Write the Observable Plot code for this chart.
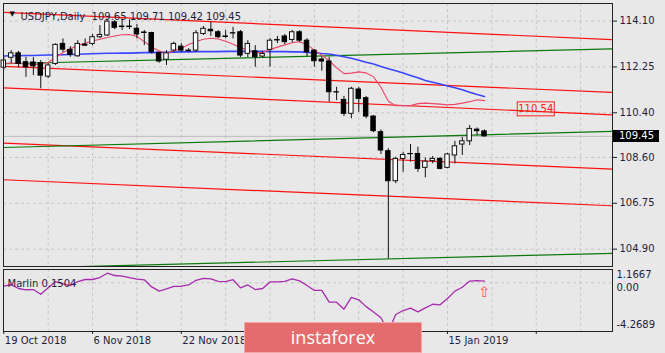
<!DOCTYPE html>
<html><head><meta charset="utf-8">
<script src="https://cdn.jsdelivr.net/npm/d3@7"></script>
<script src="https://cdn.jsdelivr.net/npm/@observablehq/plot@0.6"></script>
<style>
html,body{margin:0;padding:0;background:#e8e8e8;}
#chart{position:relative;width:665px;height:353px;overflow:hidden;background:#e8e8e8;font-family:"DejaVu Sans",sans-serif;}
#chart svg{position:absolute;left:0;overflow:visible;}
#logo{position:absolute;left:244px;top:322px;width:178px;height:31px;background:#e46c6c;border:1px solid #f2a8a8;box-sizing:border-box;color:#fff;font:18px "Open Sans",sans-serif;text-align:center;line-height:28px;z-index:5;}
#pricebox{position:absolute;left:613px;width:46px;height:12px;background:#000;color:#fff;font:10px "DejaVu Sans",sans-serif;line-height:12px;padding-left:6px;box-sizing:border-box;z-index:5;}
</style></head>
<body><div id="chart"></div>
<script>
// ---------- data ----------
const symbol = "USDJPY", timeframe = "Daily";
const opens  = [112.22,112.62,112.80,112.44,112.43,112.41,111.86,112.37,113.18,112.94,112.68,113.15,113.18,113.45,113.52,114.05,113.88,113.88,113.79,113.64,113.62,112.82,112.54,112.91,113.07,112.91,112.91,113.58,113.75,113.65,113.48,113.61,113.65,112.78,112.88,112.67,112.94,113.34,113.48,113.34,113.65,113.31,112.91,112.55,112.47,111.23,110.92,110.36,111.34,110.99,110.25,109.62,108.85,107.64,108.54,108.74,108.74,108.18,108.45,108.54,108.18,108.68,109.12,109.25,109.72,109.65];
const highs  = [112.67,112.91,112.88,112.64,112.63,112.51,112.39,113.18,113.38,113.07,113.31,113.38,113.56,113.92,114.12,114.12,114.19,114.15,113.96,113.72,113.65,112.84,112.91,113.25,113.19,112.99,113.72,113.88,114.05,113.72,113.72,113.85,113.72,113.31,113.11,112.87,113.39,113.48,113.56,113.72,113.72,113.39,112.95,112.64,112.64,111.43,111.06,111.43,111.43,111.06,110.29,109.71,108.95,108.61,108.81,109.12,109.01,108.58,108.64,108.60,108.77,109.25,109.41,109.89,109.79,109.71];
const lows   = [112.10,112.39,112.22,111.83,111.90,111.37,111.78,112.31,112.84,112.64,112.64,113.07,113.11,113.39,113.48,113.75,113.72,113.76,113.38,113.11,112.78,112.40,112.31,112.84,112.84,112.83,112.83,113.52,113.48,113.39,113.39,113.38,112.63,112.63,112.24,112.59,112.24,113.19,113.15,113.23,113.23,112.67,112.24,112.08,110.83,110.89,110.25,110.16,110.42,110.16,109.60,108.72,104.51,107.54,108.00,108.41,108.00,107.78,108.34,108.10,108.14,108.34,108.68,109.08,109.48,109.42];
const closes = [112.51,112.80,112.37,112.24,112.27,111.90,112.31,113.14,112.95,112.74,113.18,113.11,113.45,113.54,114.08,113.83,113.86,113.86,113.56,113.62,112.84,112.47,112.80,113.18,112.91,112.89,113.61,113.79,113.69,113.45,113.46,113.60,112.71,113.18,112.64,112.77,113.31,113.32,113.25,113.65,113.31,112.84,112.48,112.47,111.23,111.22,110.36,111.37,110.96,110.25,109.66,108.88,107.64,108.54,108.70,108.73,108.14,108.43,108.54,108.14,108.72,109.05,109.25,109.75,109.66,109.45];
const fastMA = [112.39,112.41,112.39,112.37,112.35,112.35,112.43,112.63,112.83,112.98,113.12,113.21,113.30,113.37,113.44,113.50,113.55,113.56,113.48,113.27,113.06,112.89,112.81,112.89,113.00,113.16,113.28,113.37,113.41,113.38,113.29,113.17,113.04,112.91,112.83,112.83,112.95,113.05,113.14,113.23,113.27,113.15,112.93,112.72,112.50,112.22,111.98,112.00,112.05,112.01,111.85,111.43,110.87,110.69,110.69,110.69,110.77,110.79,110.77,110.75,110.72,110.74,110.79,110.85,110.93,110.89];
const slowMA = [112.69,112.70,112.70,112.71,112.71,112.72,112.73,112.73,112.74,112.75,112.76,112.77,112.78,112.79,112.80,112.80,112.81,112.81,112.82,112.83,112.83,112.84,112.84,112.85,112.86,112.86,112.87,112.87,112.87,112.87,112.88,112.88,112.88,112.88,112.88,112.88,112.87,112.87,112.87,112.86,112.86,112.84,112.82,112.79,112.77,112.72,112.66,112.60,112.52,112.44,112.37,112.27,112.18,112.10,112.01,111.91,111.81,111.70,111.63,111.56,111.48,111.41,111.33,111.23,111.14,111.06];
const channelBars = [0, 82.3];
const redChannelStart   = [114.45, 112.27, 111.41, 109.18, 107.70];
const redChannelEnd     = [113.35, 111.22, 110.32, 108.13, 106.65];
const greenChannelStart = [112.38, 109.00, 104.12];
const greenChannelEnd   = [112.98, 109.65, 104.73];
const marlinName = "Marlin";
const marlin = [-0.30,-0.17,-0.50,-0.61,-0.59,-1.01,-0.44,0.10,-0.09,-0.24,0.11,0.29,0.29,0.46,0.84,0.64,0.59,0.45,0.33,0.26,-0.36,-0.73,-0.54,-0.32,-0.30,-0.19,0.22,0.39,0.34,0.12,0.11,0.27,-0.44,-0.19,-0.59,-0.50,0.08,0.08,0.13,0.35,0.17,-0.24,-0.67,-0.67,-1.70,-1.70,-2.31,-1.27,-1.49,-2.09,-2.56,-3.06,-4.2689,-2.78,-2.43,-2.22,-2.55,-2.20,-1.88,-1.93,-1.37,-0.73,-0.39,0.15,0.20,0.1504];
const marlinRange = [-4.2689, 1.1667];
const signalBar = 65, signalValue = -0.8;
const priceTicks = [114.10, 112.25, 110.40, 108.60, 106.75, 104.90];
const gridBars = [6,12,18,24,30,36,42,48,54,60,66,72,78];
const dateTickBars = [0,12,24,36,48,60,72];
const dateLabelBars = [0,12,24,60];
const dateLabels = ["19 Oct 2018","6 Nov 2018","22 Nov 2018","15 Jan 2019"];
const targetLevel = 110.54, targetBar = 72;

// ---------- build ----------
const N = opens.length;
const bars = d3.range(N).map(i => ({i, o: opens[i], h: highs[i], l: lows[i], c: closes[i]}));
const upBars = bars.filter(d => d.c >= d.o), downBars = bars.filter(d => d.c < d.o);
const xDomain = [-0.04, 82.31];
const gridStyle = {stroke: "#c6c6c6", strokeDasharray: "3,3"};
const textCol = "#1e1e3c";
const lastClose = closes[N-1];
const header = `${symbol},${timeframe}  ${opens[N-1].toFixed(2)} ${highs[N-1].toFixed(2)} ${lows[N-1].toFixed(2)} ${lastClose.toFixed(2)}`;

const channelMarks = [];
redChannelStart.forEach((p, k) => channelMarks.push(Plot.line([[channelBars[0], p],[channelBars[1], redChannelEnd[k]]], {stroke: "#ff1010", strokeWidth: 1.2, clip: true})));
greenChannelStart.forEach((p, k) => channelMarks.push(Plot.line([[channelBars[0], p],[channelBars[1], greenChannelEnd[k]]], {stroke: "#0a7a0a", strokeWidth: 1.2, clip: true})));

const main = Plot.plot({
  width: 665, height: 268,
  marginLeft: 3, marginRight: 53, marginTop: 3, marginBottom: 2,
  x: {domain: xDomain, axis: null},
  y: {domain: [104.20, 114.81], axis: "right", ticks: priceTicks, tickSize: 4, tickPadding: 3, tickFormat: d => d.toFixed(2), label: null},
  style: {background: "transparent", fontFamily: "DejaVu Sans", fontSize: "10px", color: textCol, overflow: "visible"},
  marks: [
    Plot.ruleY(priceTicks, gridStyle),
    Plot.ruleX(gridBars, gridStyle),
    Plot.ruleY([lastClose], {stroke: "#bdbdbd"}),
    ...channelMarks,
    Plot.line(slowMA.map((v, i) => [i, v]), {stroke: "#3a46ff", strokeWidth: 1.6}),
    Plot.line(fastMA.map((v, i) => [i, v]), {stroke: "#ee4468", strokeWidth: 1.1}),
    Plot.ruleX(bars, {x: "i", y1: "l", y2: "h", stroke: "#111", strokeWidth: 1}),
    Plot.rect(upBars, {x1: d => d.i - 0.3, x2: d => d.i + 0.3, y1: "o", y2: "c", fill: "#fff", stroke: "#111", strokeWidth: 1}),
    Plot.rect(downBars, {x1: d => d.i - 0.3, x2: d => d.i + 0.3, y1: "o", y2: "c", fill: "#000", stroke: "#000", strokeWidth: 1}),
    Plot.frame({stroke: "#222"}),
    Plot.text(["\u25BC"], {frameAnchor: "top-left", dx: 6, dy: 8, fontSize: 7, fill: "#000", textAnchor: "start"}),
    Plot.text([header], {frameAnchor: "top-left", dx: 17, dy: 9, fill: textCol, textAnchor: "start", fontSize: 10})
  ]
});
main.style.top = "0px";

const ind = Plot.plot({
  width: 665, height: 85,
  marginLeft: 3, marginRight: 53, marginTop: 1, marginBottom: 22,
  x: {domain: xDomain, axis: "bottom", ticks: dateTickBars, tickSize: 3, tickFormat: () => "", label: null},
  y: {domain: marlinRange, axis: null},
  style: {background: "transparent", fontFamily: "DejaVu Sans", fontSize: "10px", color: textCol, overflow: "visible"},
  marks: [
    Plot.ruleY([0], gridStyle),
    Plot.ruleX(gridBars, gridStyle),
    Plot.line(marlin.map((v, i) => [i, v]), {stroke: "#a82aae", strokeWidth: 1.3}),
    Plot.frame({stroke: "#222"}),
    Plot.text([`${marlinName} ${marlin[N-1].toFixed(4)}`], {frameAnchor: "top-left", dx: 4, dy: 10, fill: textCol, textAnchor: "start"}),
    Plot.text(["\u21E7"], {x: [signalBar], y: [signalValue], fill: "#ff5050", fontSize: 15}),
    Plot.text([marlinRange[1]], {frameAnchor: "right", y: d => d, text: d => d.toFixed(4), dx: 4, dy: 5.5, textAnchor: "start", fill: textCol}),
    Plot.text([0], {frameAnchor: "right", y: d => d, text: d => d.toFixed(2), dx: 4, dy: 5, textAnchor: "start", fill: textCol}),
    Plot.text([marlinRange[0]], {frameAnchor: "right", y: d => d, text: d => d.toFixed(4), dx: 4, dy: -7, textAnchor: "start", fill: textCol}),
    Plot.text(dateLabelBars, {x: d => d, text: (d, k) => dateLabels[k], frameAnchor: "bottom", dy: 12, dx: 1, textAnchor: "start", fill: textCol})
  ]
});
ind.style.top = "268px";

const chart = document.getElementById("chart");
chart.appendChild(main);
chart.appendChild(ind);

// labels placed with the plot's own scales
const xS = main.scale("x"), yS = main.scale("y");
const svg = d3.select(main);
const tx = xS.apply(targetBar), ty = yS.apply(targetLevel);
svg.append("rect").attr("x", tx - 18.5).attr("y", ty - 7).attr("width", 37).attr("height", 14).attr("fill", "none").attr("stroke", "#ff2020");
svg.append("text").attr("x", tx).attr("y", ty).attr("dy", "0.35em").attr("text-anchor", "middle").attr("fill", "#ff2020").attr("font-size", 10).attr("font-family", "DejaVu Sans").text(targetLevel.toFixed(2));

const pb = document.createElement("div");
pb.id = "pricebox";
pb.style.top = (yS.apply(lastClose) - 6) + "px";
pb.textContent = lastClose.toFixed(2);
chart.appendChild(pb);

const logo = document.createElement("div");
logo.id = "logo"; logo.textContent = "instaforex";
chart.appendChild(logo);
</script>
</body></html>
